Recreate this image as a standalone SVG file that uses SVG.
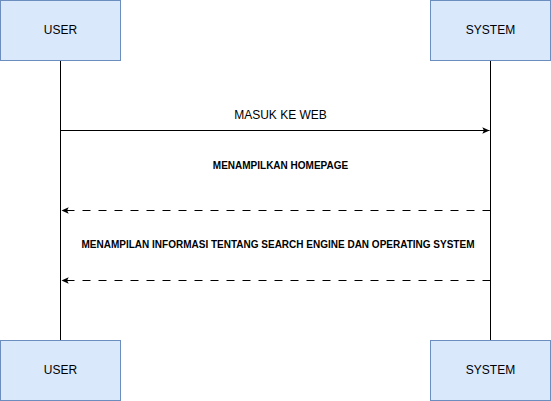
<svg xmlns="http://www.w3.org/2000/svg" width="551" height="401" viewBox="0 0 551 401">
<style>
.box{fill:#dae8fc;stroke:#6c8ebf;stroke-width:1}
.lbl{font-family:"Liberation Sans",Arial,sans-serif;font-size:12px;fill:#000;text-anchor:middle}
.msg{font-family:"Liberation Sans",Arial,sans-serif;font-size:10px;font-weight:bold;fill:#000;text-anchor:middle}
.life{stroke:#000;stroke-width:1;fill:none}
.arr{stroke:#000;stroke-width:1;fill:none}
.dash{stroke-dasharray:8 8}
</style>
<defs>
<marker id="ah" viewBox="0 0 10 10" refX="9" refY="5" markerWidth="8" markerHeight="8" markerUnits="userSpaceOnUse" orient="auto">
<path d="M0,1 L9,5 L0,9 L2,5 Z" fill="#000"/>
</marker>
</defs>
<rect width="551" height="401" fill="#fff"/>
<g id="lifelines">
<line class="life" x1="60.5" y1="60" x2="60.5" y2="340"/>
<line class="life" x1="490.5" y1="60" x2="490.5" y2="340"/>
</g>
<g id="user-top"><rect class="box" x="0.5" y="0.5" width="120" height="60"/><text class="lbl" x="60.5" y="34">USER</text></g>
<g id="system-top"><rect class="box" x="430.5" y="0.5" width="120" height="60"/><text class="lbl" x="490.5" y="34">SYSTEM</text></g>
<g id="user-bottom"><rect class="box" x="0.5" y="340.5" width="120" height="60"/><text class="lbl" x="60.5" y="374">USER</text></g>
<g id="system-bottom"><rect class="box" x="430.5" y="340.5" width="120" height="60"/><text class="lbl" x="490.5" y="374">SYSTEM</text></g>
<g id="connectors">
<line class="arr" x1="60.5" y1="130.5" x2="489.5" y2="130.5" marker-end="url(#ah)"/>
<line class="arr dash" x1="490.5" y1="210.5" x2="61.5" y2="210.5" marker-end="url(#ah)"/>
<line class="arr dash" x1="490.5" y1="280.5" x2="61.5" y2="280.5" marker-end="url(#ah)"/>
<text class="lbl" x="280.5" y="119">MASUK KE WEB</text>
<text class="msg" x="280.5" y="168.5">MENAMPILKAN HOMEPAGE</text>
<text class="msg" x="278" y="248">MENAMPILAN INFORMASI TENTANG SEARCH ENGINE DAN OPERATING SYSTEM</text>
</g>
</svg>
